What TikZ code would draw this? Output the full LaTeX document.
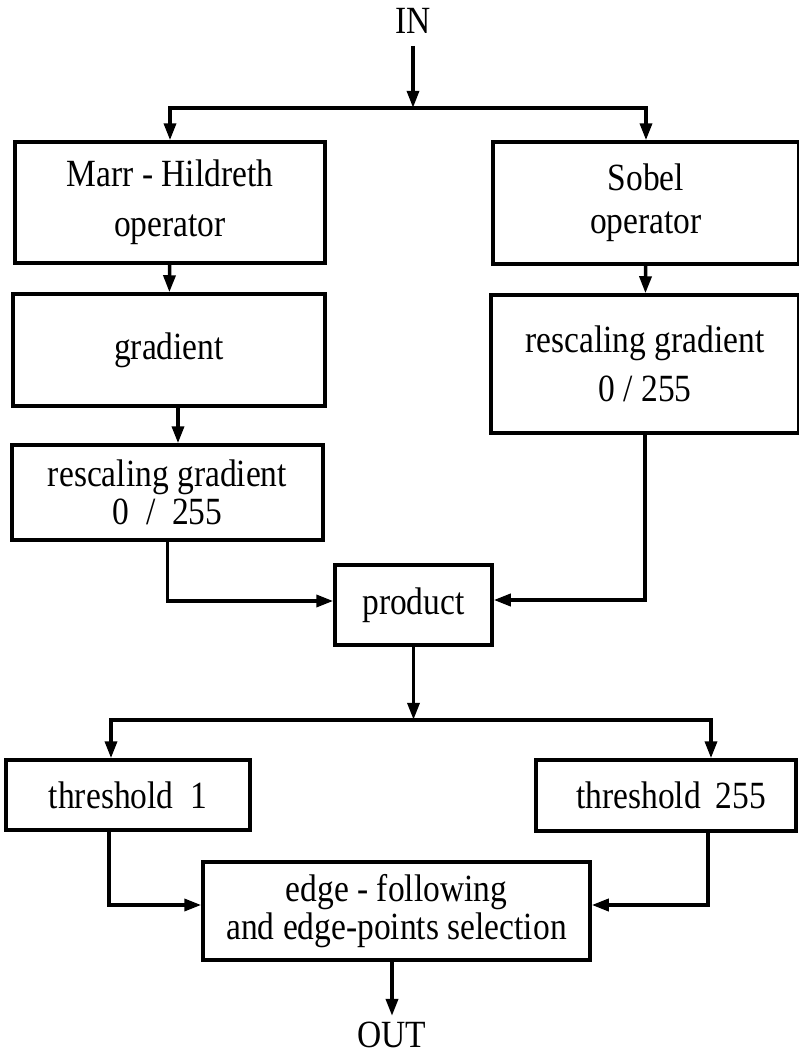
\documentclass[tikz,border=0pt]{standalone}
\usepackage{fontspec}
\setmainfont{Liberation Serif}[FakeStretch=0.87]
\usetikzlibrary{arrows.meta,positioning}
\tikzset{
  blk/.style={draw,line width=3.5pt,align=center,inner sep=0pt},
  txt/.style={inner sep=2pt},
  fl/.style={line width=3.5pt,-{Triangle[length=17pt,width=12pt]}},
}

\begin{document}
\begin{tikzpicture}[x=1pt,y=-1pt,font=\fontsize{38.5}{36}\selectfont]
\useasboundingbox (0,0) rectangle (799,1055);
\node[txt] (in) at (413,21) {IN};
\coordinate[below=72pt of in] (s1);
\node[blk, minimum width=310pt, minimum height=121pt] (marr) at (170,202.5) {Marr - Hildreth\\[14pt]operator};
\node[blk, minimum width=306pt, minimum height=122pt] (sobel) at (646,203) {Sobel\\[7pt]operator};
\node[blk, minimum width=312pt, minimum height=112pt] (grad) at (169,350) {gradient};
\node[blk, minimum width=311pt, minimum height=95pt] (rescl) at (167.5,492.5) {rescaling gradient\\[2pt]0\ \ /\ \ 255};
\node[blk, minimum width=308pt, minimum height=138pt] (rescr) at (645,364) {rescaling gradient\\[13pt]0 / 255};
\node[blk, minimum width=157pt, minimum height=80pt] (prod) at (413.5,605) {product};
\coordinate[below=73pt of prod] (s2);
\node[blk, minimum width=244pt, minimum height=70pt] (thr1) at (128,795) {threshold\ \ 1};
\node[blk, minimum width=260pt, minimum height=71pt] (thr255) at (666,795.5) {\hspace{10pt}threshold\ \,255};
\node[blk, minimum width=387pt, minimum height=98pt] (edge) at (396.5,911) {edge - following\\[2pt]and edge-points selection};
\node[txt] (out) at (392,1035) {OUT};

\draw[fl, shorten <=10pt] (in) -- (s1);
\draw[fl] (s1) -| (marr);
\draw[fl] (s1) -| (sobel);
\draw[fl] (marr) -- (grad);
\draw[fl] ([xshift=9pt]grad.south) -- ([xshift=10.5pt]rescl.north);
\draw[fl] (sobel) -- (rescr);
\draw[fl] (rescl) |- ([yshift=4pt]prod.west);
\draw[fl] (rescr) |- ([yshift=5pt]prod.east);
\draw[fl] (prod) -- (s2);
\draw[fl] (s2) -| ([xshift=-17pt]thr1.north);
\draw[fl] (s2) -| ([xshift=45pt]thr255.north);
\draw[fl] ([xshift=-19pt]thr1.south) |- ([yshift=6pt]edge.west);
\draw[fl] ([xshift=42pt]thr255.south) |- ([yshift=6pt]edge.east);
\draw[fl, shorten >=4pt] (edge.south -| out) -- (out);
\end{tikzpicture}
\end{document}
